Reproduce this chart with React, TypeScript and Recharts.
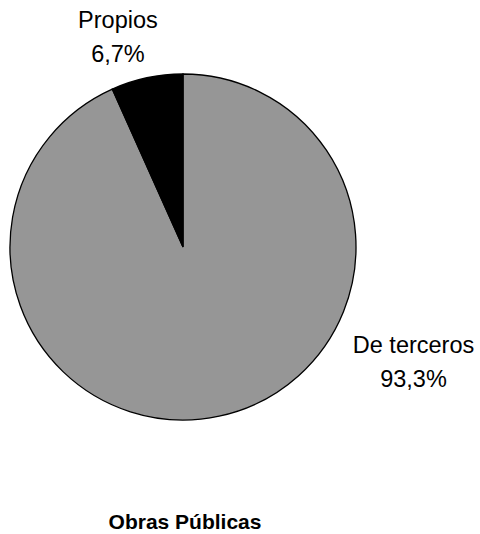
import React from 'react';
import { PieChart, Pie, Cell } from 'recharts';

const categories = ['De terceros', 'Propios'];
const shares = [93.3, 6.7];
const shareLabels = ['93,3%', '6,7%'];
const colors = ['#969696', '#000000'];
const title = 'Obras Públicas';

// label placement (polar, relative to pie centre)
const labelAngles = [-26.5, 107.2];
const labelRadii = [257.6, 220];

const data = categories.map((name, i) => ({ name, value: shares[i], pct: shareLabels[i] }));

const FONT = '"Liberation Sans", Arial, sans-serif';
const RAD = Math.PI / 180;

const renderLabel = (props: any) => {
  const { cx, cy, index } = props;
  const a = labelAngles[index] * RAD;
  const r = labelRadii[index];
  const x = cx + r * Math.cos(a);
  const y = cy - r * Math.sin(a);
  return (
    <text x={x} y={y} textAnchor="middle" fill="#000" fontFamily={FONT} fontSize={23.5}>
      <tspan x={x} y={y - 8.5}>{categories[index]}</tspan>
      <tspan x={x} y={y + 25}>{shareLabels[index]}</tspan>
    </text>
  );
};

export default function App() {
  return (
    <div style={{ position: 'absolute', left: 0, top: 0, width: 480, height: 534, background: '#fff' }}>
      <PieChart width={480} height={534} margin={{ top: 0, right: 0, bottom: 0, left: 0 }}>
        <Pie
          data={data}
          dataKey="value"
          nameKey="name"
          cx={183}
          cy={247}
          outerRadius={173}
          startAngle={90}
          endAngle={-270}
          stroke="#000"
          strokeWidth={1.3}
          label={renderLabel}
          labelLine={false}
          isAnimationActive={false}
        >
          {data.map((d, i) => (
            <Cell key={d.name} fill={colors[i]} />
          ))}
        </Pie>
        <text x={185} y={529} textAnchor="middle" fontFamily={FONT} fontSize={21} fontWeight="bold" fill="#000">
          {title}
        </text>
      </PieChart>
    </div>
  );
}
